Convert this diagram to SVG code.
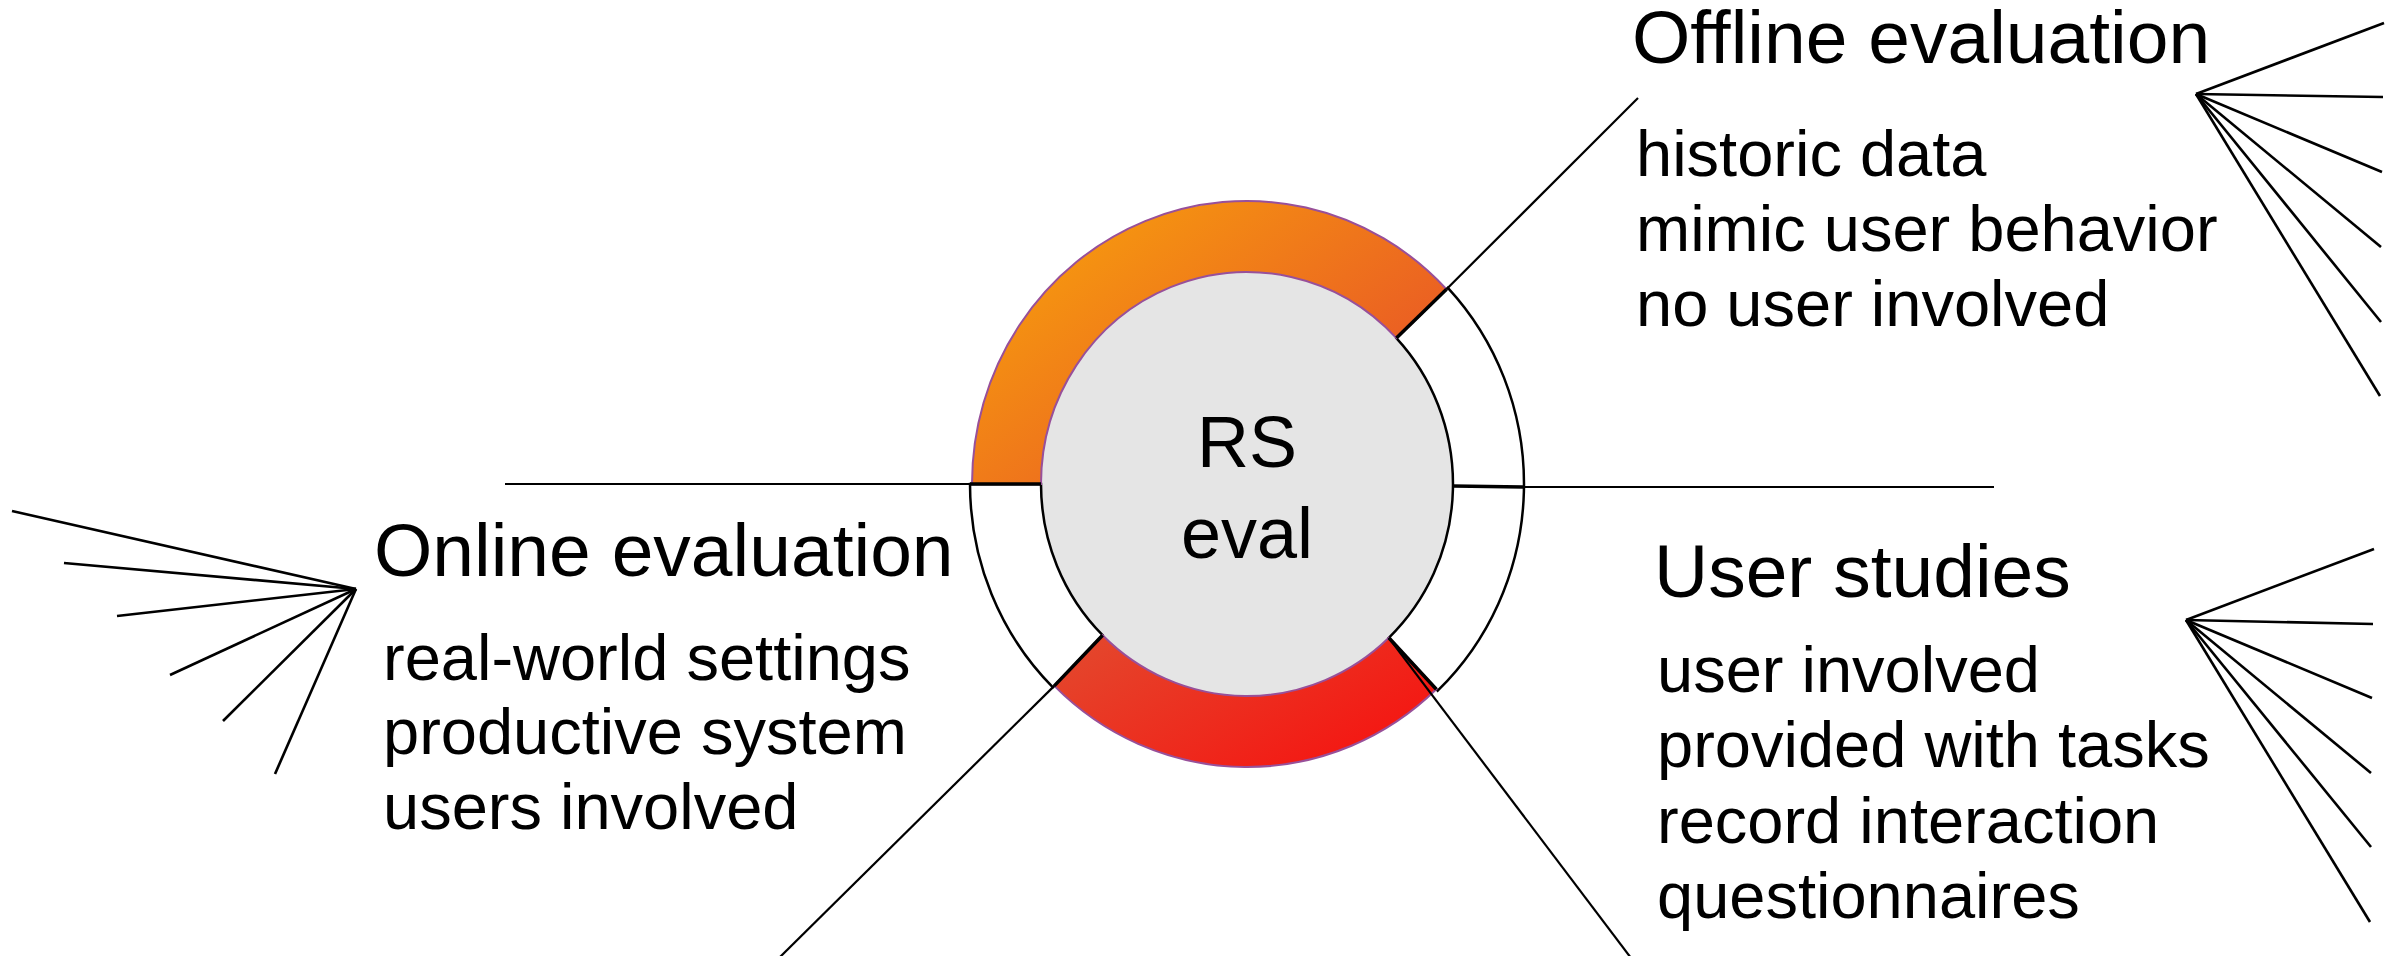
<svg xmlns="http://www.w3.org/2000/svg" width="2394" height="956" viewBox="0 0 2394 956">
  <style>
    .title { font-family: "Liberation Sans", Arial, sans-serif; font-size: 75px; fill: #000; }
    .item { font-family: "Liberation Sans", Arial, sans-serif; font-size: 65px; fill: #000; }
    .hub { font-family: "Liberation Sans", Arial, sans-serif; font-size: 72px; fill: #000; text-anchor: middle; }
    .seg-white { fill: #fff; stroke: #000; stroke-width: 2.5; }
    .seg-color { stroke: #98509A; stroke-width: 2; }
    .edge { stroke: #000; stroke-width: 3.5; stroke-linecap: butt; fill: none; }
    .link { stroke: #000; stroke-width: 2.2; fill: none; }
    .fan { stroke: #000; stroke-width: 2.6; fill: none; stroke-linecap: butt; }
  </style>
  <defs>
    <linearGradient id="gradTop" x1="0" y1="0.1" x2="1" y2="0.9">
      <stop offset="0" stop-color="#F8A30B"/>
      <stop offset="1" stop-color="#E6482B"/>
    </linearGradient>
    <linearGradient id="gradBottom" x1="0" y1="0.2" x2="1" y2="0.8">
      <stop offset="0" stop-color="#E4462C"/>
      <stop offset="1" stop-color="#F61210"/>
    </linearGradient>
  </defs>

  <!-- central donut -->
  <g id="hub">
    <ellipse cx="1247" cy="484" rx="206" ry="212" fill="#E5E5E5"/>
    <path class="seg-white" d="M 1447.9 287.8 A 277 285 0 0 1 1437.7 690.7 L 1388.8 637.8 A 206 212 0 0 0 1396.4 338.1 Z"/>
    <path class="seg-white" d="M 1052.9 687.3 A 277 285 0 0 1 970 484 L 1041 484 A 206 212 0 0 0 1102.6 635.2 Z"/>
    <path class="seg-color" fill="url(#gradTop)" d="M 972 484 A 275 283 0 0 1 1446.5 289.2 L 1396.4 338.1 A 206 212 0 0 0 1041 484 Z"/>
    <path class="seg-color" fill="url(#gradBottom)" d="M 1436.3 689.3 A 275 283 0 0 1 1054.3 685.9 L 1102.6 635.2 A 206 212 0 0 0 1388.8 637.8 Z"/>
    <line class="edge" x1="1396.4" y1="338.1" x2="1446.5" y2="289.2"/>
    <line class="edge" x1="1388.8" y1="637.8" x2="1436.3" y2="689.3"/>
    <line class="edge" x1="1102.6" y1="635.2" x2="1054.3" y2="685.9"/>
    <line class="edge" x1="1041" y1="484" x2="970" y2="484"/>
    <line class="edge" x1="1453" y1="486" x2="1523" y2="487"/>
    <text class="hub" x="1247" y="467">RS</text>
    <text class="hub" x="1247" y="558">eval</text>
  </g>

  <!-- connectors from the donut to the branches -->
  <g id="connectors">
    <line class="link" x1="1446.5" y1="289.2" x2="1638" y2="98"/>
    <line class="link" x1="1522" y1="487" x2="1994" y2="487"/>
    <line class="link" x1="972" y1="484" x2="505" y2="484"/>
    <line class="link" x1="1054.3" y1="685.9" x2="779" y2="958"/>
    <line class="link" x1="1388.8" y1="637.8" x2="1631" y2="958"/>
  </g>

  <!-- Offline evaluation branch -->
  <g id="offline">
    <text class="title" x="1632" y="63">Offline evaluation</text>
    <text class="item" x="1636" y="176">historic data</text>
    <text class="item" x="1636" y="251">mimic user behavior</text>
    <text class="item" x="1636" y="326">no user involved</text>
    <g class="fan">
      <line x1="2196" y1="94" x2="2384" y2="23"/>
      <line x1="2196" y1="94" x2="2383" y2="97"/>
      <line x1="2196" y1="94" x2="2382" y2="172"/>
      <line x1="2196" y1="94" x2="2381" y2="247"/>
      <line x1="2196" y1="94" x2="2381" y2="322"/>
      <line x1="2196" y1="94" x2="2380" y2="396"/>
    </g>
  </g>

  <!-- Online evaluation branch -->
  <g id="online">
    <text class="title" x="374" y="576">Online evaluation</text>
    <text class="item" x="383" y="680">real-world settings</text>
    <text class="item" x="383" y="754">productive system</text>
    <text class="item" x="383" y="829">users involved</text>
    <g class="fan">
      <line x1="356" y1="589" x2="12" y2="511"/>
      <line x1="356" y1="589" x2="64" y2="563"/>
      <line x1="356" y1="589" x2="117" y2="616"/>
      <line x1="356" y1="589" x2="170" y2="675"/>
      <line x1="356" y1="589" x2="223" y2="721"/>
      <line x1="356" y1="589" x2="275" y2="774"/>
    </g>
  </g>

  <!-- User studies branch -->
  <g id="user-studies">
    <text class="title" x="1654" y="597">User studies</text>
    <text class="item" x="1657" y="692">user involved</text>
    <text class="item" x="1657" y="767">provided with tasks</text>
    <text class="item" x="1657" y="843">record interaction</text>
    <text class="item" x="1657" y="918">questionnaires</text>
    <g class="fan">
      <line x1="2186" y1="620" x2="2374" y2="549"/>
      <line x1="2186" y1="620" x2="2373" y2="624"/>
      <line x1="2186" y1="620" x2="2372" y2="698"/>
      <line x1="2186" y1="620" x2="2371" y2="773"/>
      <line x1="2186" y1="620" x2="2371" y2="847"/>
      <line x1="2186" y1="620" x2="2370" y2="922"/>
    </g>
  </g>
</svg>
